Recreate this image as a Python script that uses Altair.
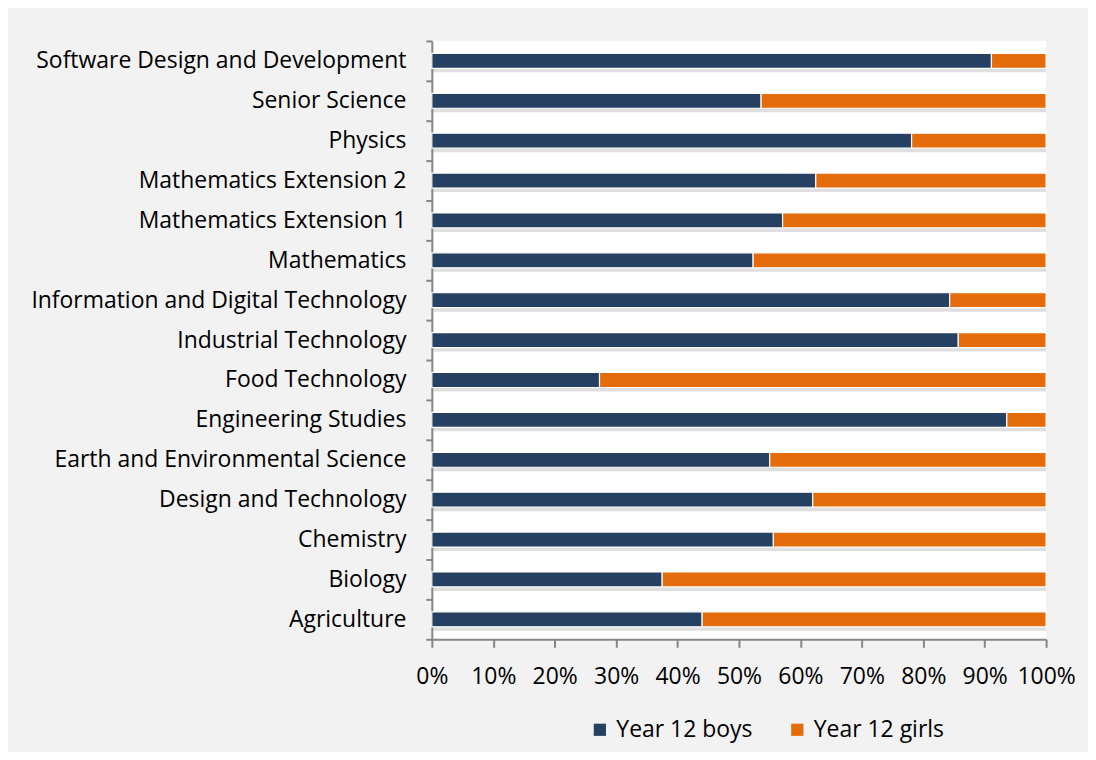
import altair as alt
import pandas as pd

subjects = [
    "Software Design and Development",
    "Senior Science",
    "Physics",
    "Mathematics Extension 2\u2002",
    "Mathematics Extension 1",
    "Mathematics",
    "Information and Digital Technology",
    "Industrial Technology",
    "Food Technology",
    "Engineering Studies",
    "Earth and Environmental Science\u2002",
    "Design and Technology",
    "Chemistry",
    "Biology",
    "Agriculture",
]
boys_pct = [91.1, 53.6, 78.1, 62.5, 57.1, 52.3, 84.3, 85.7, 27.3, 93.6, 55.0, 62.0, 55.6, 37.5, 44.0]
girls_pct = [8.9, 46.4, 21.9, 37.5, 42.9, 47.7, 15.7, 14.3, 72.7, 6.4, 45.0, 38.0, 44.4, 62.5, 56.0]
series = ["Year 12 boys", "Year 12 girls"]
colors = ["#264061", "#e46c0a"]

rows = []
for s, b, g in zip(subjects, boys_pct, girls_pct):
    rows.append({"subject": s, "series": series[0], "value": b, "ord": 0})
    rows.append({"subject": s, "series": series[1], "value": g, "ord": 1})
df = pd.DataFrame(rows)

FONT = "Open Sans"
FS = 23

y_enc = alt.Y(
    "subject:N",
    sort=subjects,
    scale=alt.Scale(paddingInner=0, paddingOuter=0),
    axis=alt.Axis(
        title=None,
        labelFontSize=FS,
        labelFont=FONT,
        labelColor="#000000",
        labelPadding=20,
        tickBand="extent",
        tickSize=6,
        tickColor="#868686",
        domainColor="#868686",
        tickWidth=2,
        domainWidth=2,
        labelLimit=500,
    ),
)
x_enc = alt.X(
    "value:Q",
    stack="normalize",
    scale=alt.Scale(domain=[0, 1], nice=False),
    axis=alt.Axis(
        title=None,
        format=".0%",
        values=[i / 10 for i in range(11)],
        labelFontSize=FS,
        labelFont=FONT,
        labelColor="#000000",
        labelPadding=18,
        tickSize=8,
        tickColor="#868686",
        domainColor="#868686",
        tickWidth=2,
        domainWidth=2,
        grid=False,
        labelFlush=False,
    ),
)

shadow = alt.Chart(df).mark_bar(color="#8c8c8c", opacity=0.28, yOffset=4, size=15).encode(
    x=x_enc, y=y_enc, order=alt.Order("ord:Q")
)

bars = alt.Chart(df).mark_bar(stroke="white", strokeWidth=1.2, size=15).encode(
    x=x_enc,
    y=y_enc,
    order=alt.Order("ord:Q"),
    color=alt.Color(
        "series:N",
        scale=alt.Scale(domain=series, range=colors),
        legend=alt.Legend(
            title=None,
            orient="none",
            direction="horizontal",
            legendX=157,
            legendY=679,
            symbolType="square",
            symbolSize=150,
            symbolStrokeWidth=0,
            labelFontSize=FS,
            labelFont=FONT,
            labelColor="#000000",
            columnPadding=33,
            labelOffset=5,
        ),
    ),
)

chart = (
    alt.layer(shadow, bars)
    .properties(
        width=616,
        height=600,
        background="#f2f2f2",
        autosize=alt.AutoSizeParams(type="none"),
        padding={"left": 425, "top": 32, "right": 42, "bottom": 112},
    )
    .configure_view(fill="white", strokeWidth=0)
)

chart.save("out.html", embed_options={"renderer": "svg", "actions": False})
